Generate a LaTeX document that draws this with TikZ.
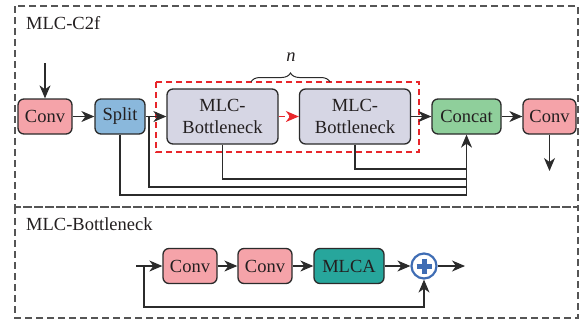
\documentclass[tikz,border=0pt]{standalone}
\usepackage{fontspec}
\setmainfont{Liberation Serif}
\usetikzlibrary{arrows.meta,decorations.pathreplacing}
\definecolor{convc}{HTML}{F5A3A9}
\definecolor{splitc}{HTML}{8AB8DC}
\definecolor{bottc}{HTML}{D6D6E4}
\definecolor{concc}{HTML}{8FCF9B}
\definecolor{mlcac}{HTML}{27A69C}
\definecolor{plusc}{HTML}{3F6DB4}
\definecolor{linec}{HTML}{2B2B2B}
\definecolor{txt}{HTML}{231F20}
\definecolor{redd}{HTML}{E8262B}
\definecolor{frame}{HTML}{555555}
\begin{document}
\begin{tikzpicture}[x=1pt,y=-1pt,font=\fontsize{18.5}{21.5}\selectfont,
  blk/.style={draw=linec,line width=1.3pt,rounded corners=6pt,inner sep=0pt,align=center,text=txt,minimum height=35pt},
  tall/.style={blk,minimum height=55pt,minimum width=111pt,fill=bottc},
  arr/.style={-{Stealth[length=13pt,width=11pt,inset=4pt]},line width=1.1pt,draw=linec},
  ln/.style={line width=1.1pt,draw=linec},
  frm/.style={draw=frame,line width=1.2pt,dash pattern=on 7pt off 4pt}]
\useasboundingbox (0,0) rectangle (581,322);
% frames
\draw[frm] (15,6) rectangle (578,207);
\draw[frm] (15,207) rectangle (578,318);
\node[anchor=base west,text=txt,inner sep=0pt] (lab1) at (26,29) {MLC-C2f};
\node[anchor=base west,text=txt,inner sep=0pt] (lab2) at (26,230) {MLC-Bottleneck};
% top nodes
\node[blk,fill=convc,minimum width=54pt] (conv1) at (45,116.5) {Conv};
\node[blk,fill=splitc,minimum width=50pt] (split) at (120,116.5) {Split};
\node[tall] (b1) at (222.5,116.5) {MLC-\\Bottleneck};
\node[tall] (b2) at (355,116.5) {MLC-\\Bottleneck};
\node[blk,fill=concc,minimum width=69pt] (concat) at (466.5,116.5) {Concat};
\node[blk,fill=convc,minimum width=53pt] (conv2) at (549.5,116.5) {Conv};
\draw[redd,line width=1.1pt,dash pattern=on 6pt off 4pt] (156,82) rectangle (419,152);
\coordinate (bl) at (251,82);
\coordinate (br) at (330,82);
\draw[linec,line width=1pt,decorate,decoration={brace,amplitude=9pt}] (bl) -- (br);
\node[text=txt,inner sep=0pt] (n) at (291,57) {\itshape n};
% top connectors
\coordinate (in1) at (45,63);
\draw[arr] (in1) -- (conv1.north);
\draw[arr] (conv1.east) -- (split.west);
\draw[arr] (split.east) -- (b1.west);
\draw[line width=1.1pt,draw=redd,dash pattern=on 6pt off 4pt,-{Stealth[length=13pt,width=11pt,inset=4pt,fill=redd]}] (b1.east) -- (b2.west);
\draw[arr] (b2.east) -- (concat.west);
\draw[arr] (concat.east) -- (conv2.west);
\coordinate (down) at (549.5,171);
\draw[arr] (conv2.south) -- (down);
\coordinate (brx) at (149,116.5);
\coordinate (j1) at (466.5,169);
\coordinate (j2) at (466.5,179);
\coordinate (j3) at (466.5,187);
\coordinate (j4) at (466.5,195);
\draw[ln] (b2.south) |- (j1);
\draw[ln] (b1.south) |- (j2);
\draw[ln] (brx) |- (j3);
\draw[ln] (split.south) |- (j4);
\draw[arr] (j4) -- (concat.south);
% bottom nodes
\node[blk,fill=convc,minimum width=54pt] (conv3) at (190,266) {Conv};
\node[blk,fill=convc,minimum width=54pt] (conv4) at (265,266) {Conv};
\node[blk,fill=mlcac,minimum width=70pt] (mlca) at (349,266) {MLCA};
\node[circle,draw=plusc,line width=2.2pt,fill=white,minimum size=25pt,inner sep=0pt] (plus) at (424,266) {};
\draw[plusc,line width=5pt] (plus.center) ++(-7.5,0) -- ++(15,0);
\draw[plusc,line width=5pt] (plus.center) ++(0,-7.5) -- ++(0,15);
\coordinate (in2) at (136,266);
\coordinate (fb) at (144,266);
\coordinate (fbd) at (144,307);
\coordinate (out2) at (465,266);
\draw[arr] (in2) -- (conv3.west);
\draw[arr] (conv3.east) -- (conv4.west);
\draw[arr] (conv4.east) -- (mlca.west);
\draw[arr] (mlca.east) -- (plus.west);
\draw[arr] (plus.east) -- (out2);
\draw[arr] (fb) -- (fbd) -| (plus.south);
\end{tikzpicture}
\end{document}
